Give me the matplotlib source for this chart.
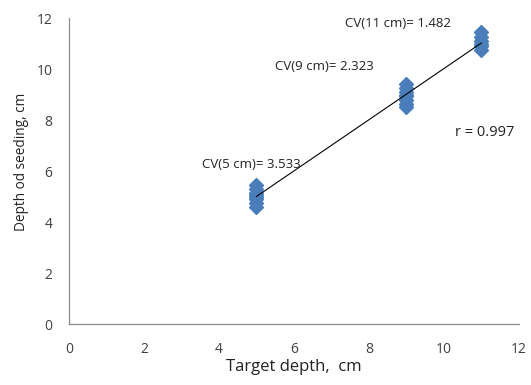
import matplotlib.pyplot as plt
import numpy as np

plt.rcParams['font.family'] = ['Open Sans', 'DejaVu Sans']

# measured seeding depth for each target depth (cm)
depth_5 = [4.6, 4.75, 4.9, 5.0, 5.05, 5.15, 5.3, 5.45]
depth_9 = [8.5, 8.65, 8.8, 8.95, 9.0, 9.1, 9.25, 9.4]
depth_11 = [10.75, 10.9, 11.0, 11.1, 11.25, 11.45]
targets = [5, 9, 11]
cv_labels = ["CV(5 cm)= 3.533", "CV(9 cm)= 2.323", "CV(11 cm)= 1.482"]
r_label = "r = 0.997"

x = [5]*len(depth_5) + [9]*len(depth_9) + [11]*len(depth_11)
y = depth_5 + depth_9 + depth_11

fig = plt.figure(figsize=(5.31, 3.85), dpi=100)
ax = fig.add_axes([0.130, 0.158, 0.847, 0.795])

ax.plot(x, y, linestyle='none', marker='D', markersize=7.5,
        color='#4a7ebb', markeredgecolor='#4a7ebb')

k, b = np.polyfit(x, y, 1)
xs = np.array([5, 11])
ax.plot(xs, k*xs + b, color='black', linewidth=0.8)

txt = dict(fontsize=9.5, va='center', color='#222222')
ax.text(4.86, 6.25, cv_labels[0], ha='center', **txt)
ax.text(5.5, 10.1, cv_labels[1], ha='left', **txt)
ax.text(7.36, 11.8, cv_labels[2], ha='left', **txt)
ax.text(10.3, 7.5, r_label, ha='left', fontsize=10.5, va='center', color='#222222')

ax.set_xlim(0, 12)
ax.set_ylim(0, 12)
ax.set_xticks(np.arange(0, 13, 2))
ax.set_yticks(np.arange(0, 13, 2))
ax.tick_params(length=0, labelsize=10, colors='#404040')
ax.tick_params(axis='x', pad=13)
ax.tick_params(axis='y', pad=12)
ax.set_xlabel("Target depth,  cm", fontsize=12, color='#222222', labelpad=1)
ax.set_ylabel("Depth od seeding, cm", fontsize=9.8, color='#222222')
ax.yaxis.set_label_coords(-0.088, 0.53)

for s in ['top', 'right']:
    ax.spines[s].set_visible(False)
for s in ['left', 'bottom']:
    ax.spines[s].set_color('#8c8c8c')
    ax.spines[s].set_linewidth(0.9)

fig.savefig("out.png", dpi=100)
